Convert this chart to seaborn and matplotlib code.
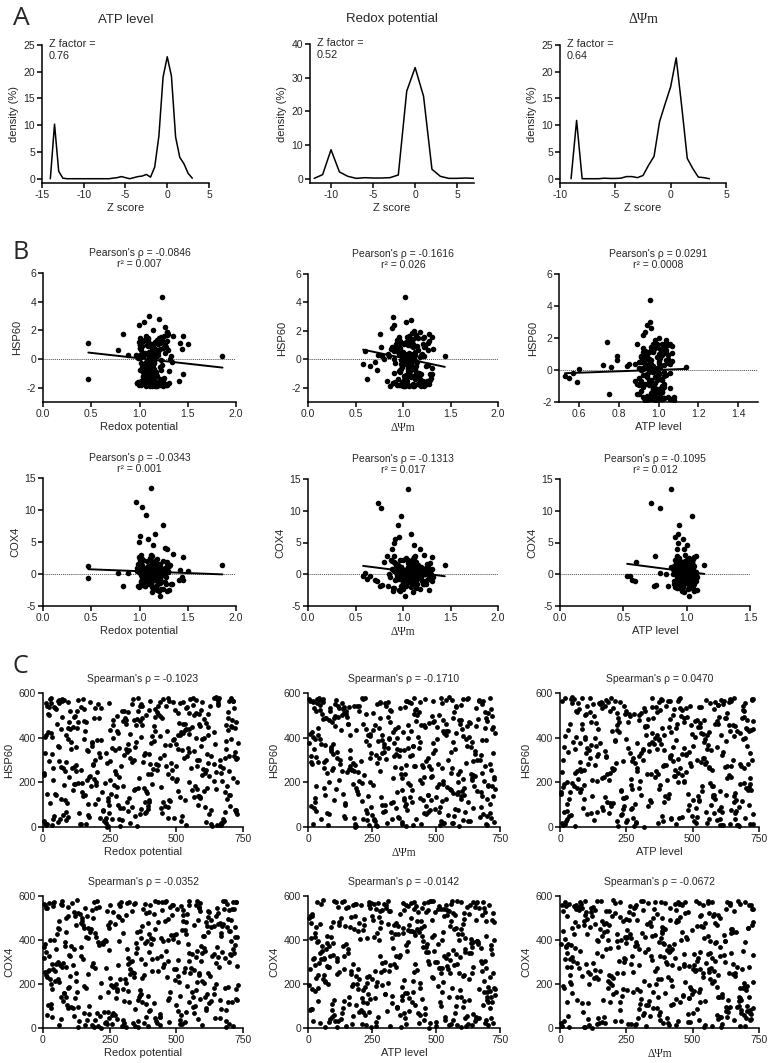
import numpy as np
import pandas as pd
import seaborn as sns
import matplotlib.pyplot as plt

# ---- panel A: Z-score density curves ----
atp_z = [-14, -13.5, -13, -12.5, -12, -11.5, -11, -10.5, -10, -9.5, -9, -8.5, -8, -7.5, -7, -6.5, -6, -5.5,
         -5, -4.5, -4, -3.5, -3, -2.5, -2, -1.5, -1, -0.5, 0, 0.5, 1, 1.5, 2, 2.5, 3]
atp_density = [0, 10.2, 1.4, 0.1, 0, 0, 0, 0, 0, 0, 0, 0, 0, 0, 0, 0.1, 0.2, 0.4,
               0.2, 0.0, 0.2, 0.4, 0.5, 0.8, 0.3, 2.2, 8.0, 19.0, 22.8, 19.2, 7.8, 4.0, 2.8, 1.0, 0.1]
redox_z = [-12, -11, -10, -9, -8, -7, -6, -5, -4, -3, -2, -1, 0, 1, 2, 3, 4, 5, 6, 7]
redox_density = [0.1, 1.2, 8.6, 2.0, 0.7, 0.1, 0.3, 0.2, 0.2, 0.3, 1.1, 26.0, 33.0, 24.5, 2.8, 0.7, 0.1, 0.1, 0.2, 0.1]
dpsi_z = [-9, -8.5, -8, -7.5, -7, -6.5, -6, -5.5, -5, -4.5, -4, -3.5, -3, -2.5, -2, -1.5, -1, -0.5,
          0, 0.5, 1, 1.5, 2, 2.5, 3, 3.5]
dpsi_density = [0, 10.9, 0, 0, 0, 0, 0.1, 0.05, 0.05, 0.1, 0.4, 0.4, 0.2, 0.6, 2.5, 4.2, 10.7, 14.0,
                17.2, 22.6, 13.5, 3.8, 1.9, 0.3, 0.2, 0.0]
z_factors = ['0.76', '0.52', '0.64']

# ---- panel B: per-gene values (outliers first, then the dense core) ----
redox = [0.47, 0.47, 0.78, 0.83, 0.88, 1.23, 1.86, 1.10, 1.20, 1.05, 1.12, 0.96, 1.03, 1.07, 1.24, 1.16, 1.00, 1.35, 1.45, 1.42,
         1.44, 1.50, 1.45, 1.41, 1.05, 1.10, 1.15, 1.08, 1.12, 1.02, 1.18, 1.06, 1.26, 1.09, 1.14, 0.99, 1.29, 1.21, 1.13, 1.31,
         1.12, 1.04, 1.19, 1.08, 1.27, 1.01, 1.15, 1.22, 0.99, 1.10, 1.31, 1.06, 1.17, 1.13, 1.02, 1.24,
         1.09, 1.20, 0.98, 1.14, 1.28, 1.05, 1.11, 1.18, 1.03, 1.25, 1.07, 1.16, 1.00, 1.21, 1.13, 1.33,
         1.06, 1.17, 1.11, 1.02, 1.23, 1.09, 1.14, 0.97, 1.19, 1.29, 1.04, 1.12, 1.26, 1.08, 1.16, 1.01,
         1.21, 1.10, 1.05, 1.18, 1.13, 1.30, 0.99, 1.15, 1.07, 1.22, 1.11, 1.03, 1.27, 1.14, 1.09, 1.19,
         1.04, 1.24, 1.12, 1.17, 1.00, 1.10, 1.20, 1.06, 1.32, 1.15, 1.08, 1.13, 0.98, 1.25, 1.11, 1.03,
         1.16, 1.07, 1.28, 1.11, 1.19, 1.02, 1.14, 1.09, 1.22, 1.05, 1.18, 1.12, 1.01, 1.26, 1.10, 1.15,
         1.08, 1.21, 1.13, 0.99, 1.17, 1.24, 1.06, 1.11, 1.30, 1.04, 1.16, 1.20, 1.09, 1.14, 1.02, 1.23,
         1.12, 1.05, 1.18, 1.27, 1.10, 1.15, 1.00, 1.21, 1.07, 1.13, 1.34, 1.09, 1.19, 1.03, 1.16, 1.11,
         1.25, 1.08, 1.14, 1.01, 1.20, 1.12, 1.06, 1.29, 1.17, 1.10, 0.97, 1.22, 1.13, 1.05, 1.18, 1.09,
         1.15, 1.03, 1.23, 1.11, 1.07, 1.19, 1.28, 1.14, 1.00, 1.12, 1.26, 1.08, 1.16, 1.04, 1.21, 1.10]
dpsi = [1.10, 0.62, 0.60, 0.76, 0.85, 1.02, 1.44, 0.89, 1.08, 1.03, 1.05, 0.74, 0.77, 0.98, 0.95, 1.08, 0.96, 1.22, 1.30, 1.26,
        1.32, 1.21, 1.31, 1.25, 0.58, 0.65, 0.70, 0.73, 0.80, 0.83, 0.78, 0.84, 0.88, 0.92, 1.12, 0.91, 1.18, 1.02, 1.10, 1.27,
        1.02, 1.15, 0.93, 1.08, 1.21, 0.97, 1.11, 1.04, 0.89, 1.18, 1.06, 1.27, 0.99, 1.13, 1.01, 0.95,
        1.09, 1.24, 1.00, 0.91, 1.14, 1.05, 1.19, 0.96, 1.07, 1.29, 1.03, 0.88, 1.16, 1.10, 0.98, 1.22,
        1.04, 0.94, 1.12, 1.01, 1.26, 1.07, 0.90, 1.17, 1.02, 1.09, 0.97, 1.20, 1.06, 1.13, 0.86, 1.05,
        1.11, 1.00, 1.23, 0.95, 1.08, 1.16, 1.03, 0.92, 1.14, 1.06, 1.19, 0.99, 1.10, 1.28, 1.04, 0.96,
        1.07, 1.18, 0.98, 1.12, 0.87, 1.05, 1.21, 1.01, 1.09, 0.94, 1.15, 1.03, 1.25, 1.08, 0.97, 1.11,
        0.99, 1.13, 1.06, 1.24, 1.02, 0.91, 1.17, 1.08, 1.00, 1.20, 1.04, 0.96, 1.12, 1.07, 1.30, 1.01,
        1.16, 0.93, 1.10, 1.03, 1.19, 1.06, 0.98, 1.14, 1.27, 1.02, 1.08, 0.89, 1.22, 1.05, 1.11, 0.97,
        1.04, 1.21, 1.00, 1.09, 0.95, 1.13, 1.06, 1.18, 1.01, 0.92, 1.15, 1.07, 1.25, 0.99, 1.10, 1.03,
        0.96, 1.12, 1.08, 1.23, 1.02, 0.90, 1.17, 1.05, 1.14, 0.98, 1.20, 1.04, 1.09, 1.28, 1.00, 1.13,
        1.07, 0.94, 1.19, 1.03, 1.11, 1.26, 0.97, 1.06, 1.16, 1.01, 0.88, 1.10, 1.22, 1.05, 0.99, 1.14]
atp = [0.97, 0.99, 0.79, 0.74, 0.84, 0.955, 1.14, 0.955, 0.94, 0.96, 0.88, 0.72, 0.79, 1.04, 0.94, 0.93, 0.91, 0.99, 1.06, 1.02,
       1.05, 1.07, 1.03, 1.01, 0.53, 0.55, 0.57, 0.59, 0.60, 0.75, 0.76, 0.85, 0.92, 0.97, 1.00, 0.93, 0.98, 1.02, 0.98, 1.08,
       0.96, 1.00, 0.93, 0.98, 1.03, 0.91, 0.97, 1.05, 0.94, 0.99, 0.89, 1.01, 0.95, 1.07, 0.92, 0.98,
       1.02, 0.94, 0.97, 0.90, 1.04, 0.99, 0.93, 1.06, 0.96, 0.91, 1.00, 0.95, 1.03, 0.98, 0.88, 1.01,
       0.97, 0.93, 1.02, 0.95, 0.99, 1.06, 0.92, 0.98, 0.94, 1.04, 0.96, 0.90, 1.00, 0.97, 1.08, 0.93,
       0.99, 0.95, 1.01, 0.92, 0.97, 1.05, 0.94, 1.00, 0.89, 0.98, 1.03, 0.96, 0.93, 1.02, 0.97, 0.91,
       1.04, 0.96, 0.99, 0.93, 1.01, 0.95, 1.07, 0.97, 0.91, 1.00, 0.94, 1.03, 0.98, 0.92, 0.96, 1.05,
       0.94, 1.02, 0.97, 0.90, 0.99, 1.04, 0.95, 0.98, 1.01, 0.93, 0.97, 1.06, 0.92, 1.00, 0.96, 0.89,
       1.00, 0.95, 1.03, 0.97, 0.92, 0.99, 1.05, 0.94, 0.98, 1.02, 0.90, 0.96, 1.01, 0.93, 1.07, 0.97,
       0.93, 0.98, 1.00, 0.95, 1.04, 0.91, 0.97, 1.02, 0.94, 0.99, 1.06, 0.96, 0.92, 1.01, 0.95, 0.98,
       1.02, 0.97, 0.94, 1.05, 0.99, 0.92, 1.00, 0.96, 1.03, 0.90, 0.98, 0.95, 1.04, 0.97, 0.93, 1.01,
       0.95, 1.03, 0.98, 0.92, 1.00, 0.96, 1.06, 0.94, 0.99, 0.97, 0.91, 1.02, 0.96, 1.00, 0.94, 0.98]
hsp60 = [1.10, -1.40, 0.60, 1.75, 0.25, 4.35, 0.20, 3.00, 2.80, 2.60, 0.40, 0.30, 0.90, -0.30, 0.80, 1.20, -0.80, 1.60, 1.60, 1.15,
         0.70, 1.05, -1.05, -1.55, -0.35, -0.50, -0.20, -0.75, 0.05, -1.50, 0.20, 0.35, 2.20, -1.60, 2.00, 2.40, 1.90, -1.80, -1.90, -1.70,
         0.35, -1.20, 1.05, -0.45, -1.78, 0.80, -0.10, 1.55, -1.65, 0.15, -0.85, 1.30, -1.82, 0.55, -0.30, -1.40,
         0.95, -1.72, 0.05, -0.95, 1.70, -0.60, -1.85, 0.40, 1.20, -1.30, -0.20, 0.70, -1.75, 1.45, -0.70, 0.20,
         -1.55, 0.60, -1.80, 1.10, -0.40, -1.10, 0.90, -1.68, 0.25, 1.85, -0.90, -1.50, 0.45, -0.15, -1.88, 1.00,
         -0.55, 0.10, -1.70, 1.35, -1.25, 0.65, -1.83, -0.25, 1.60, -0.80, 0.30, -1.60, 0.85, -1.00, -1.76, 0.50,
         1.25, -1.45, -0.05, -1.86, 0.75, -0.65, 1.50, -1.15, 0.00, -1.79, 0.95, -0.35, -1.58, 1.15, -0.75, -1.70,
         0.20, -1.35, 1.65, -0.50, -1.84, 0.60, -0.95, 1.40, -1.62, 0.35, -1.20, -1.80, 0.10, 1.00, -0.60, -1.48,
         -1.74, 0.70, -0.15, 1.20, -1.05, -1.87, 0.45, -0.45, 1.75, -1.28, 0.15, -1.66, 0.90, -0.85, -1.81, 1.30,
         -0.30, -1.52, 0.55, -1.77, 1.10, -0.70, 0.25, -1.38, -1.85, 0.80, -0.20, 1.45, -1.70, -0.55, 0.40, -1.10,
         1.60, -1.83, -0.40, 0.95, -1.55, 0.05, -1.76, 1.25, -0.90, 0.50, -1.64, -0.10, 1.05, -1.42, -1.88, 0.30,
         -0.80, 1.35, -1.73, 0.15, -1.18, 0.65, -1.80, -0.25, 1.50, -1.58, 0.85, -0.65, -1.84, 0.20, 1.15, -1.32]
cox4 = [1.2, -0.7, 0.2, -1.9, 0.1, 0.5, 1.4, 0.8, 0.3, -0.5, 13.5, 11.2, 10.4, 9.2, 7.7, 6.3, 5.9, 3.1, 2.7, 0.6,
        -0.5, 0.4, -1.0, -0.9, -0.3, -0.2, -0.9, -1.1, 2.0, 2.9, -1.7, -1.9, 4.0, 5.5, 4.6, 5.0, 3.9, -3.4, -2.8, -2.5,
        0.4, -0.8, 1.6, 0.1, -1.5, 2.3, -0.3, 0.9, -2.1, 0.6, 1.2, -0.5, 0.2, 2.8, -1.1, 0.7,
        -0.2, 1.0, -1.8, 0.5, 1.9, -0.6, 0.3, -2.5, 1.4, 0.0, -1.2, 2.1, 0.8, -0.4, 1.1, -1.6,
        0.6, -0.1, 2.5, -1.3, 0.2, 1.3, -2.2, 0.9, -0.7, 1.7, 0.4, -1.0, 0.1, 2.0, -0.5, 1.2,
        -1.4, 0.7, 0.0, 1.5, -2.0, 0.3, 2.6, -0.9, 0.8, -0.3, 1.1, -1.7, 0.5, 1.8, -0.6, 0.2,
        1.0, -2.4, 0.4, -0.2, 2.2, 0.9, -1.1, 0.6, 1.4, -0.8, 0.1, -1.9, 1.6, 0.3, -0.4, 2.4,
        -0.9, 0.5, 1.2, -1.5, 0.0, 1.9, -0.2, 0.7, -2.3, 1.0, 0.3, -0.7, 2.7, -1.2, 0.8, 0.1,
        0.2, 1.5, -1.0, 0.6, -0.4, 2.1, -1.8, 0.9, 0.4, -0.6, 1.3, -2.6, 0.0, 1.7, -0.1, 0.5,
        -1.3, 0.8, 2.3, -0.5, 1.1, -2.0, 0.3, 0.7, -0.8, 1.8, -1.5, 0.2, 0.9, -0.3, 1.4, -1.0,
        0.6, -1.6, 1.0, 0.1, -0.7, 2.9, -0.2, 0.4, -2.2, 1.2, 0.5, -1.1, 1.6, 0.0, -0.9, 0.8,
        1.9, -0.4, 0.3, -1.4, 0.7, 1.1, -2.7, 0.2, 1.5, -0.6, 0.9, -1.2, 0.4, 2.2, -0.1, 0.6]
pearson_rho = ['-0.0846', '-0.1616', '0.0291', '-0.0343', '-0.1313', '-0.1095']
pearson_r2 = ['0.007', '0.026', '0.0008', '0.001', '0.017', '0.012']
fit_slope = [-0.755, -1.41, 0.445, -0.58, -1.90, -2.60]
fit_intercept = [0.805, 1.50, -0.437, 1.018, 2.42, 3.02]

# ---- panel C: ranks ----
rank_redox = [512, 87, 655, 231, 403, 18, 719, 346, 142, 588, 274, 61, 690, 455, 190, 623, 7, 378, 540, 115,
              701, 299, 36, 468, 166, 612, 252, 389, 725, 93, 531, 204, 647, 13, 357, 480, 129, 682, 318, 569,
              47, 426, 243, 596, 158, 708, 382, 71, 521, 285, 640, 196, 437, 24, 559, 333, 674, 104, 412, 262,
              583, 150, 716, 367, 53, 498, 219, 629, 311, 82, 546, 397, 177, 663, 2, 445, 268, 603, 136, 728,
              341, 505, 31, 235, 662, 419, 97, 575, 290, 184, 696, 363, 58, 482, 611, 211, 392, 127, 547, 29,
              672, 258, 461, 118, 590, 326, 42, 713, 406, 170, 525, 279, 633, 66, 374, 494, 226, 685, 145, 565,
              303, 11, 451, 617, 192, 354, 730, 109, 536, 249, 410, 79, 658, 328, 474, 160, 597, 38, 387, 270,
              649, 132, 518, 224, 694, 432, 16, 562, 296, 183, 609, 351, 90, 491, 239, 704, 425, 57, 578, 315,
              201, 667, 371, 124, 514, 27, 640, 282, 443, 153, 586, 340, 721, 74, 459, 208, 555, 396, 99, 677,
              264, 487, 44, 620, 319, 172, 533, 410, 687, 138, 362, 5, 573, 246, 697, 430, 85, 507, 292, 626,
              180, 416, 63, 549, 336, 712, 216, 470, 121, 601, 385, 23, 654, 277, 528, 149, 440, 699, 348, 95,
              592, 253, 476, 34, 668, 309, 165, 543, 400, 722, 112, 358, 615, 196, 467, 69, 584, 323, 706, 240,
              22, 447, 630, 178, 356, 701, 95, 263, 519, 612, 40, 384, 157, 566, 289, 724, 118, 472, 335, 645,
              206, 559, 14, 393, 681, 250, 131, 498, 326, 73, 604, 440, 187, 716, 362, 9, 533, 281, 668, 101,
              415, 228, 577, 59, 346, 692, 169, 508, 276, 624, 33, 451, 195, 589, 312, 86, 727, 398, 146, 539,
              270, 658, 50, 486, 215, 603, 377, 120, 551, 299, 18, 676, 428, 163, 521, 243, 710, 88, 369, 615,
              141, 503, 318, 687, 61, 433, 232, 579, 111, 366, 643, 28, 470, 209, 594, 345, 76, 526, 255, 699,
              383, 12, 561, 197, 641, 305, 457, 93, 719, 237, 525, 173, 404, 66, 617, 340, 493, 130, 672, 284,
              548, 222, 397, 45, 665, 144, 511, 316, 705, 79, 442, 259, 586, 186, 30, 631, 372, 482, 105, 568,
              60, 597, 332, 475, 152, 728, 273, 419, 7, 537, 213, 652, 388, 124, 574, 300, 694, 245, 461, 34,
              648, 183, 506, 286, 39, 713, 359, 102, 580, 235, 421, 682, 71, 498, 167, 619, 322, 16, 549, 393,
              248, 607, 125, 464, 690, 295, 55, 538, 370, 200, 660, 84, 437, 312, 722, 153, 515, 3, 585, 349]
rank_dpsi = [233, 604, 45, 389, 712, 150, 476, 298, 21, 655, 362, 108, 540, 267, 697, 83, 431, 186, 579, 340,
             12, 493, 641, 222, 375, 727, 129, 566, 305, 58, 448, 681, 195, 412, 33, 617, 276, 513, 97, 703,
             421, 170, 590, 318, 66, 529, 248, 668, 140, 453, 15, 384, 719, 206, 557, 104, 329, 642, 479, 261,
             597, 37, 355, 498, 214, 686, 122, 441, 574, 283, 9, 626, 394, 163, 520, 72, 705, 347, 230, 469,
             81, 661, 301, 145, 547, 404, 726, 254, 24, 487, 611, 178, 369, 94, 633, 290, 462, 199, 584, 43,
             533, 313, 690, 117, 436, 241, 571, 6, 380, 652, 157, 505, 271, 718, 62, 418, 587, 225, 349, 132,
             676, 280, 28, 458, 605, 189, 335, 524, 87, 709, 244, 397, 561, 113, 482, 320, 645, 51, 427, 166,
             551, 209, 372, 30, 693, 445, 137, 598, 259, 411, 76, 663, 326, 502, 183, 620, 16, 388, 729, 297,
             154, 515, 68, 637, 286, 456, 201, 577, 343, 715, 125, 407, 40, 548, 237, 679, 365, 101, 490, 624,
             318, 19, 582, 174, 434, 673, 253, 510, 89, 366, 700, 219, 538, 143, 398, 55, 612, 288, 471, 193,
             648, 106, 422, 559, 3, 331, 695, 247, 486, 160, 603, 378, 78, 526, 276, 722, 437, 131, 565, 352,
             48, 459, 210, 630, 310, 567, 120, 391, 684, 227, 504, 64, 343, 657, 180, 449, 595, 26, 415, 269,
             511, 76, 337, 652, 209, 468, 28, 590, 263, 715, 139, 405, 548, 91, 382, 630, 174, 487, 10, 295,
             699, 350, 118, 573, 241, 436, 667, 52, 528, 314, 190, 606, 383, 25, 462, 721, 157, 299, 559, 84,
             274, 632, 415, 36, 556, 188, 709, 347, 105, 484, 239, 620, 71, 397, 541, 166, 684, 322, 446, 13,
             592, 131, 468, 288, 713, 57, 406, 529, 213, 645, 332, 96, 571, 182, 496, 376, 724, 41, 268, 610,
             160, 727, 301, 443, 89, 579, 230, 672, 366, 20, 518, 144, 635, 281, 410, 699, 63, 531, 197, 384,
             455, 38, 625, 254, 506, 147, 380, 690, 112, 568, 312, 481, 5, 597, 227, 660, 357, 94, 526, 433,
             226, 584, 97, 359, 700, 172, 471, 331, 617, 45, 544, 258, 413, 125, 729, 386, 200, 642, 22, 500,
             643, 283, 515, 67, 421, 244, 680, 138, 562, 340, 30, 604, 470, 181, 391, 717, 103, 524, 306, 651,
             111, 439, 705, 216, 563, 19, 369, 602, 290, 489, 152, 677, 60, 417, 250, 538, 359, 694, 141, 586,
             402, 675, 185, 540, 33, 324, 623, 264, 453, 82, 711, 374, 165, 596, 292, 47, 522, 678, 236, 389]
rank_atp = [366, 128, 594, 45, 707, 260, 483, 15, 639, 321, 177, 552, 89, 418, 685, 232, 507, 63, 361, 621,
            194, 729, 402, 112, 568, 286, 32, 660, 445, 155, 523, 374, 8, 612, 247, 491, 700, 141, 336, 577,
            70, 434, 219, 688, 306, 516, 97, 644, 383, 167, 561, 27, 456, 273, 719, 123, 604, 348, 203, 495,
            656, 51, 413, 236, 586, 139, 474, 717, 314, 81, 538, 393, 180, 630, 22, 467, 266, 697, 118, 542,
            296, 604, 160, 449, 12, 667, 358, 213, 512, 76, 624, 400, 250, 573, 137, 715, 330, 59, 469, 192,
            553, 103, 387, 692, 241, 497, 35, 619, 329, 168, 441, 711, 280, 84, 532, 376, 646, 208, 4, 425,
            609, 148, 342, 526, 67, 675, 289, 454, 199, 580, 20, 378, 722, 114, 500, 258, 636, 420, 93, 311,
            44, 565, 224, 664, 366, 132, 484, 596, 254, 703, 55, 414, 188, 545, 317, 661, 107, 443, 270, 615,
            476, 10, 352, 590, 171, 728, 302, 530, 86, 429, 651, 230, 384, 40, 558, 149, 694, 339, 222, 506,
            133, 638, 409, 282, 63, 518, 216, 679, 364, 17, 593, 459, 174, 713, 299, 99, 549, 392, 646, 240,
            571, 327, 26, 487, 724, 158, 436, 608, 263, 74, 536, 345, 669, 196, 413, 120, 583, 291, 48, 458,
            690, 238, 525, 95, 371, 627, 184, 466, 6, 599, 322, 701, 145, 452, 277, 560, 38, 406, 657, 212,
            298, 661, 140, 435, 19, 578, 250, 704, 389, 92, 523, 176, 642, 337, 57, 469, 715, 209, 551, 380,
            35, 412, 689, 266, 538, 121, 607, 353, 8, 480, 230, 656, 401, 157, 729, 304, 83, 570, 445, 189,
            627, 214, 493, 68, 372, 718, 283, 555, 129, 431, 668, 40, 516, 247, 597, 325, 100, 461, 695, 172,
            360, 45, 582, 207, 699, 333, 476, 16, 640, 271, 418, 562, 113, 727, 392, 237, 520, 77, 614, 299,
            533, 267, 26, 651, 427, 168, 590, 312, 710, 61, 452, 198, 368, 620, 135, 499, 291, 679, 4, 408,
            184, 608, 348, 89, 547, 693, 240, 437, 30, 512, 374, 645, 150, 583, 279, 722, 418, 115, 467, 257,
            703, 74, 459, 316, 615, 201, 528, 656, 96, 386, 12, 560, 244, 679, 346, 163, 490, 631, 55, 576,
            424, 226, 674, 118, 508, 27, 395, 581, 286, 727, 175, 448, 611, 65, 357, 535, 220, 686, 103, 474,
            78, 543, 307, 659, 196, 413, 716, 142, 485, 265, 598, 38, 381, 684, 231, 554, 110, 438, 630, 344,
            567, 159, 393, 711, 51, 322, 503, 603, 216, 446, 82, 664, 275, 544, 14, 373, 697, 189, 519, 636]
rank_hsp60 = [412, 33, 547, 196, 281, 508, 74, 360, 15, 452, 238, 569, 127, 321, 489, 58, 405, 176, 539, 267,
              93, 473, 212, 576, 346, 21, 436, 153, 303, 561, 119, 390, 245, 9, 518, 287, 444, 68, 370, 185,
              529, 256, 5, 395, 142, 477, 331, 564, 48, 222, 425, 103, 498, 294, 167, 552, 38, 381, 260, 456,
              137, 572, 318, 81, 463, 205, 535, 12, 351, 249, 418, 110, 558, 275, 29, 486, 190, 399, 63, 310,
              480, 161, 556, 42, 299, 430, 226, 512, 87, 375, 145, 543, 24, 254, 465, 330, 96, 521, 202, 577,
              17, 355, 271, 493, 130, 415, 50, 566, 236, 340, 459, 180, 3, 441, 290, 524, 78, 387, 158, 500,
              324, 553, 114, 448, 216, 6, 378, 265, 532, 61, 409, 187, 570, 307, 123, 469, 231, 36, 502, 343,
              580, 195, 426, 71, 514, 278, 150, 545, 30, 363, 240, 484, 107, 395, 1, 451, 283, 562, 170, 336,
              246, 11, 490, 359, 133, 573, 208, 421, 84, 527, 302, 166, 443, 55, 367, 549, 262, 120, 470, 27,
              397, 560, 148, 288, 516, 44, 434, 192, 349, 14, 475, 233, 568, 100, 317, 506, 66, 413, 274, 540,
              183, 453, 35, 334, 575, 220, 389, 90, 497, 258, 161, 537, 8, 428, 311, 141, 560, 250, 382, 46,
              522, 295, 115, 401, 19, 487, 209, 354, 563, 76, 448, 173, 325, 533, 39, 268, 461, 128, 578, 285,
              502, 64, 318, 228, 576, 145, 393, 480, 27, 257, 538, 110, 429, 341, 4, 470, 192, 566, 289, 373,
              126, 447, 541, 82, 308, 212, 569, 370, 16, 491, 160, 406, 276, 533, 57, 333, 460, 98, 241, 520,
              385, 26, 272, 555, 168, 434, 101, 350, 496, 229, 7, 574, 300, 135, 463, 410, 58, 525, 195, 316,
              249, 556, 142, 388, 40, 483, 324, 194, 571, 85, 427, 262, 515, 13, 346, 128, 449, 291, 550, 173,
              536, 215, 72, 458, 356, 543, 30, 299, 166, 402, 579, 106, 237, 488, 363, 48, 265, 422, 149, 564,
              62, 413, 577, 189, 281, 518, 95, 443, 335, 20, 560, 226, 378, 124, 505, 298, 42, 470, 207, 354,
              438, 155, 329, 531, 11, 256, 466, 112, 394, 567, 180, 34, 505, 284, 422, 75, 541, 218, 349, 136,
              294, 559, 88, 367, 476, 203, 140, 527, 18, 437, 313, 572, 65, 250, 399, 185, 486, 118, 544, 328,
              171, 380, 512, 36, 264, 562, 218, 440, 99, 331, 494, 156, 575, 271, 52, 414, 343, 15, 509, 237,
              553, 91, 278, 431, 182, 520, 364, 9, 458, 200, 578, 122, 307, 478, 69, 395, 556, 244, 138, 455]
rank_cox4 = [145, 498, 322, 21, 557, 260, 413, 88, 367, 531, 198, 12, 459, 290, 574, 113, 384, 241, 519, 54,
             440, 179, 566, 305, 37, 481, 228, 395, 132, 550, 273, 68, 509, 346, 6, 423, 164, 577, 291, 102,
             357, 25, 468, 214, 545, 118, 386, 277, 16, 504, 182, 431, 63, 570, 336, 253, 475, 97, 403, 529,
             40, 312, 542, 155, 427, 266, 2, 490, 205, 372, 561, 79, 451, 129, 318, 536, 190, 420, 31, 283,
             563, 237, 108, 397, 478, 47, 334, 171, 555, 280, 18, 442, 222, 513, 92, 376, 146, 580, 306, 200,
             465, 60, 351, 526, 134, 298, 573, 10, 410, 244, 487, 167, 327, 41, 540, 216, 389, 83, 501, 263,
             121, 547, 279, 438, 3, 362, 196, 568, 72, 454, 314, 158, 523, 247, 27, 415, 341, 554, 110, 472,
             296, 522, 57, 383, 186, 575, 234, 140, 492, 13, 349, 437, 104, 267, 533, 395, 33, 456, 211, 359,
             579, 85, 463, 248, 17, 401, 154, 510, 329, 67, 552, 230, 379, 122, 485, 9, 271, 426, 186, 541,
             66, 405, 215, 534, 320, 99, 444, 258, 5, 517, 174, 369, 561, 45, 300, 484, 139, 393, 572, 236,
             448, 112, 285, 576, 24, 361, 206, 495, 135, 418, 52, 327, 544, 176, 256, 470, 15, 537, 340, 91,
             303, 559, 162, 49, 430, 225, 507, 382, 80, 574, 286, 127, 462, 36, 399, 565, 242, 118, 489, 20,
             263, 574, 122, 437, 30, 336, 509, 187, 553, 80, 402, 290, 14, 468, 225, 571, 358, 138, 533, 45,
             391, 164, 545, 11, 319, 482, 95, 426, 268, 577, 203, 51, 498, 343, 150, 561, 28, 287, 419, 235,
             520, 73, 350, 210, 570, 117, 454, 307, 39, 528, 176, 397, 271, 566, 6, 436, 128, 344, 486, 193,
             59, 473, 292, 558, 139, 365, 23, 511, 249, 433, 106, 579, 317, 182, 446, 71, 539, 276, 410, 153,
             329, 541, 170, 32, 488, 258, 399, 579, 89, 312, 464, 221, 126, 549, 375, 8, 297, 515, 197, 440,
             562, 239, 97, 412, 336, 21, 571, 182, 459, 273, 535, 64, 381, 140, 503, 248, 425, 3, 346, 562,
             116, 387, 528, 261, 44, 476, 208, 567, 334, 157, 408, 19, 545, 296, 92, 461, 229, 557, 374, 68,
             449, 15, 304, 550, 191, 415, 135, 579, 256, 484, 56, 367, 522, 214, 321, 36, 496, 162, 577, 289,
             201, 537, 76, 396, 266, 574, 142, 328, 490, 26, 450, 183, 559, 103, 411, 252, 573, 60, 339, 478,
             354, 143, 468, 230, 565, 9, 302, 429, 119, 547, 279, 392, 50, 514, 177, 454, 38, 565, 248, 387]
spearman_rho = ['-0.1023', '-0.1710', '0.0470', '-0.0352', '-0.0142', '-0.0672']

sns.set_theme(style='ticks')
plt.rcParams['font.family'] = ['Liberation Sans', 'DejaVu Sans']
plt.rcParams['axes.unicode_minus'] = False
plt.rcParams['axes.linewidth'] = 1.1
plt.rcParams['axes.edgecolor'] = 'black'

W, H = 770, 1063
fig = plt.figure(figsize=(W / 100, H / 100), dpi=100)
fig.patch.set_facecolor('white')


def add_ax(left, top, right, bottom):
    return fig.add_axes([left / W, 1 - bottom / H, (right - left) / W, (bottom - top) / H])


def fam(label):
    return ['Liberation Serif'] if 'Ψ' in label else ['Liberation Sans', 'DejaVu Sans']


def style(ax, xlabel, ylabel):
    sns.despine(ax=ax)
    ax.tick_params(direction='out', length=3.5, width=1.1, labelsize=7.5, pad=1.5, color='black')
    ax.set_xlabel(xlabel, fontsize=8.3 if 'Ψ' in xlabel else 8, family=fam(xlabel), labelpad=2.5)
    ax.set_ylabel(ylabel, fontsize=8, family=fam(ylabel), labelpad=3)
    ax.set_facecolor('white')


# ---- A ----
density_panels = [
    (atp_z, atp_density, 'ATP level', (42, 45, 209, 183), (-15, 5), [-15, -10, -5, 0, 5], 25),
    (redox_z, redox_density, 'Redox potential', (310, 44, 474, 183), (-12.5, 7), [-10, -5, 0, 5], 40),
    (dpsi_z, dpsi_density, 'ΔΨm', (560, 45, 726, 183), (-10, 5), [-10, -5, 0, 5], 25),
]
for (z, d, title, box, xlim, xticks, ytop), zf in zip(density_panels, z_factors):
    ax = add_ax(*box)
    sns.lineplot(x=z, y=d, color='black', lw=1.1, ax=ax, sort=False)
    ax.set_xlim(*xlim)
    ax.set_ylim(-ytop * 0.032, ytop)
    ax.set_xticks(xticks)
    ax.set_yticks(np.arange(0, ytop + 1, 5 if ytop == 25 else 10))
    style(ax, 'Z score', 'density (%)')
    ax.set_title(title, fontsize=10 if 'Ψ' in title else 9.5, pad=16, family=fam(title))
    ax.annotate(f'Z factor =\n{zf}', xy=(0, 1), xycoords='axes fraction', xytext=(5, 4),
                textcoords='offset points', ha='left', va='top', fontsize=7.8, linespacing=1.2)

# ---- B ----
genes = pd.DataFrame({'Redox potential': redox, 'ΔΨm': dpsi, 'ATP level': atp, 'HSP60': hsp60, 'COX4': cox4})
pearson_panels = [
    ('Redox potential', 'HSP60', (43, 273, 236, 402), (0, 2), [0, 0.5, 1, 1.5, 2], (-3, 6), [-2, 0, 2, 4, 6]),
    ('ΔΨm', 'HSP60', (308, 274, 498, 402), (0, 2), [0, 0.5, 1, 1.5, 2], (-3, 6), [-2, 0, 2, 4, 6]),
    ('ATP level', 'HSP60', (559, 274, 758, 402), (0.5, 1.5), [0.6, 0.8, 1.0, 1.2, 1.4], (-2, 6), [-2, 0, 2, 4, 6]),
    ('Redox potential', 'COX4', (43, 478, 236, 606), (0, 2), [0, 0.5, 1, 1.5, 2], (-5, 15), [-5, 0, 5, 10, 15]),
    ('ΔΨm', 'COX4', (308, 479, 498, 606), (0, 2), [0, 0.5, 1, 1.5, 2], (-5, 15), [-5, 0, 5, 10, 15]),
    ('ATP level', 'COX4', (560, 479, 750, 606), (0, 1.5), [0, 0.5, 1, 1.5], (-5, 15), [-5, 0, 5, 10, 15]),
]
for i, (xv, yv, box, xlim, xticks, ylim, yticks) in enumerate(pearson_panels):
    ax = add_ax(*box)
    ax.axhline(0, color='0.3', lw=0.7, ls=(0, (1, 1)), zorder=0)
    sns.scatterplot(data=genes, x=xv, y=yv, color='black', s=16, linewidth=0, ax=ax, zorder=2)
    xr = np.array([genes[xv].min(), genes[xv].max()])
    sns.lineplot(x=xr, y=fit_intercept[i] + fit_slope[i] * xr, color='black', lw=1.4, ax=ax, zorder=3)
    ax.set_xlim(*xlim)
    ax.set_ylim(*ylim)
    ax.set_xticks(xticks)
    ax.set_xticklabels([f'{t:.1f}' for t in xticks])
    ax.set_yticks(yticks)
    style(ax, xv, yv)
    ax.set_title(f"Pearson's ρ = {pearson_rho[i]}\nr² = {pearson_r2[i]}", fontsize=7.5, pad=4, linespacing=1.2)

fig.text(13 / W, 1 - 25 / H, 'A', fontsize=19, family=['Open Sans'], va='baseline', ha='left')
fig.text(13 / W, 1 - 259 / H, 'B', fontsize=18, family=['Open Sans'], va='baseline', ha='left')
fig.text(13 / W, 1 - 673 / H, 'C', fontsize=18, family=['Open Sans'], va='baseline', ha='left')

# ---- C ----
rank_cols = {'Redox potential': rank_redox, 'ΔΨm': rank_dpsi, 'ATP level': rank_atp,
             'HSP60': rank_hsp60, 'COX4': rank_cox4}
n_rank = min(len(v) for v in rank_cols.values())
ranks = pd.DataFrame({k: v[:n_rank] for k, v in rank_cols.items()})
spearman_panels = [
    ('Redox potential', 'HSP60', (43, 693, 243, 827)),
    ('ΔΨm', 'HSP60', (308, 693, 500, 827)),
    ('ATP level', 'HSP60', (560, 693, 759, 827)),
    ('Redox potential', 'COX4', (43, 896, 243, 1028)),
    ('ATP level', 'COX4', (308, 896, 500, 1028)),
    ('ΔΨm', 'COX4', (560, 896, 759, 1028)),
]
for i, (xv, yv, box) in enumerate(spearman_panels):
    ax = add_ax(*box)
    sns.scatterplot(data=ranks, x=xv, y=yv, color='black', s=12, linewidth=0, ax=ax, clip_on=False)
    ax.set_xlim(0, 750)
    ax.set_ylim(0, 600)
    ax.set_xticks([0, 250, 500, 750])
    ax.set_yticks([0, 200, 400, 600])
    style(ax, xv, yv)
    ax.set_title(f"Spearman's ρ = {spearman_rho[i]}", fontsize=7.5, pad=8)

fig.savefig('out.png', dpi=100)
